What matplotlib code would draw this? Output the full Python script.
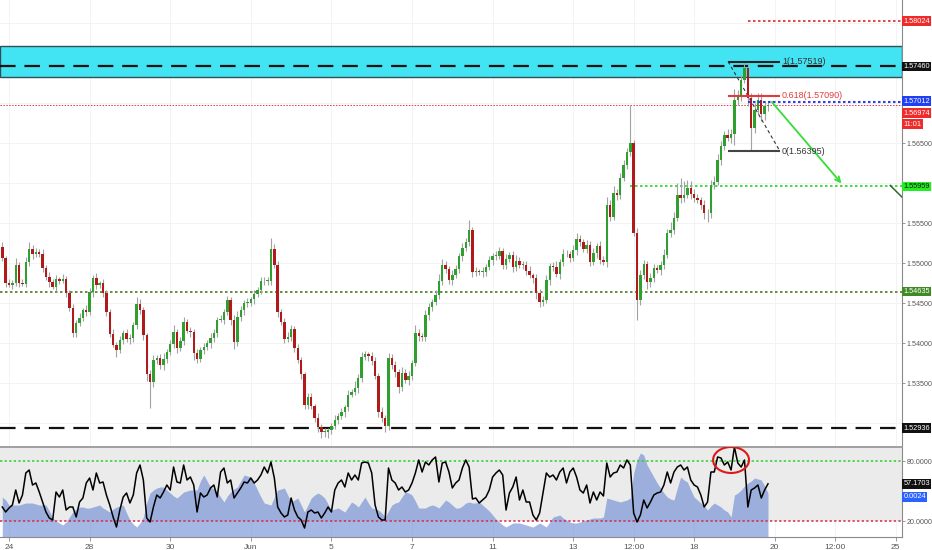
import matplotlib
matplotlib.use('Agg')
import matplotlib.pyplot as plt
import numpy as np
from matplotlib.patches import Rectangle, Ellipse
from matplotlib.transforms import blended_transform_factory, ScaledTranslation

FONT = ['Liberation Sans Narrow', 'Liberation Sans', 'DejaVu Sans']

# ---------------- data ----------------
first_open = 1.5520
closes = [
    1.5506, 1.5475, 1.5473, 1.5475, 1.5498, 1.5475, 1.5474, 1.5501, 1.5518, 1.5511,
    1.5514, 1.5511, 1.5494, 1.5483, 1.5476, 1.5470, 1.5480, 1.5478, 1.5480, 1.5463,
    1.5444, 1.5413, 1.5425, 1.5431, 1.5441, 1.5439, 1.5464, 1.5481, 1.5473, 1.5475,
    1.5463, 1.5439, 1.5411, 1.5398, 1.5391, 1.5404, 1.5412, 1.5405, 1.5406, 1.5422,
    1.5449, 1.5441, 1.5410, 1.5361, 1.5351, 1.5379, 1.5381, 1.5372, 1.5380, 1.5389,
    1.5399, 1.5414, 1.5394, 1.5402, 1.5426, 1.5415, 1.5414, 1.5387, 1.5380, 1.5391,
    1.5395, 1.5400, 1.5406, 1.5412, 1.5429, 1.5429, 1.5439, 1.5454, 1.5429, 1.5401,
    1.5432, 1.5441, 1.5450, 1.5450, 1.5455, 1.5461, 1.5466, 1.5477, 1.5478, 1.5478,
    1.5518, 1.5498, 1.5439, 1.5426, 1.5405, 1.5408, 1.5418, 1.5394, 1.5379, 1.5361,
    1.5323, 1.5333, 1.5321, 1.5306, 1.5295, 1.5289, 1.5289, 1.5291, 1.5296, 1.5304,
    1.5309, 1.5314, 1.5320, 1.5335, 1.5339, 1.5344, 1.5356, 1.5383, 1.5386, 1.5384,
    1.5378, 1.5359, 1.5314, 1.5306, 1.5296, 1.5381, 1.5372, 1.5364, 1.5345, 1.5362,
    1.5354, 1.5359, 1.5375, 1.5412, 1.5409, 1.5407, 1.5435, 1.5445, 1.5451, 1.5460,
    1.5478, 1.5498, 1.5492, 1.5479, 1.5485, 1.5492, 1.5509, 1.5519, 1.5526, 1.5541,
    1.5489, 1.5490, 1.5489, 1.5489, 1.5495, 1.5504, 1.5509, 1.5509, 1.5515, 1.5498,
    1.5505, 1.5510, 1.5495, 1.5503, 1.5498, 1.5498, 1.5490, 1.5485, 1.5481, 1.5463,
    1.5451, 1.5454, 1.5479, 1.5496, 1.5495, 1.5486, 1.5501, 1.5511, 1.5511, 1.5506,
    1.5516, 1.5530, 1.5526, 1.5518, 1.5523, 1.5501, 1.5512, 1.5521, 1.5504, 1.5501,
    1.5573, 1.5558, 1.5588, 1.5585, 1.5606, 1.5623, 1.5639, 1.5650, 1.5538, 1.5454,
    1.5485, 1.5499, 1.5476, 1.5481, 1.5494, 1.5491, 1.5497, 1.5510, 1.5538, 1.5541,
    1.5556, 1.5585, 1.5581, 1.5585, 1.5594, 1.5586, 1.5581, 1.5579, 1.5573, 1.5563,
    1.5562, 1.5598, 1.5601, 1.5629, 1.5646, 1.5660, 1.5656, 1.5661, 1.5704, 1.5708,
    1.5729, 1.5744, 1.5706, 1.5669, 1.5691, 1.5704, 1.5686, 1.5696, 1.5697,
]
upper_wick_pips = [
    6, 3, 5, 4, 8, 3, 5, 6, 8, 4,   5, 4, 7, 3, 6, 4, 5, 3, 6, 4,
    3, 5, 4, 6, 3, 7, 5, 4, 6, 3,   5, 3, 4, 6, 3, 5, 4, 6, 5, 4,
    8, 6, 4, 3, 5, 6, 4, 5, 7, 4,   5, 8, 4, 6, 7, 4, 5, 3, 6, 4,
    5, 4, 6, 5, 4, 6, 3, 5, 4, 6,   8, 5, 4, 6, 3, 5, 4, 6, 5, 4,
    13, 6, 4, 3, 5, 6, 4, 3, 5, 4,  3, 5, 4, 3, 6, 4, 5, 3, 4, 6,
    4, 5, 3, 6, 4, 8, 5, 6, 4, 3,   5, 4, 3, 6, 4, 7, 5, 6, 4, 8,
    5, 6, 4, 10, 5, 4, 6, 5, 4, 6,  8, 7, 5, 4, 6, 5, 4, 6, 5, 13,
    4, 5, 3, 6, 4, 5, 4, 6, 5, 4,   6, 4, 5, 7, 4, 5, 4, 6, 3, 5,
    4, 5, 6, 4, 5, 7, 4, 6, 5, 4,   6, 8, 5, 4, 6, 5, 7, 4, 6, 5,
    10, 6, 8, 5, 7, 6, 5, 48, 4, 6, 6, 5, 4, 6, 5, 4, 6, 8, 5, 10,
    8, 15, 21, 18, 10, 8, 6, 5, 4, 6, 5, 6, 8, 7, 6, 5, 8, 6, 13, 8,
    6, 8, 5, 6, 9, 9, 8, 7, 5,
]
lower_wick_pips = [
    4, 5, 3, 6, 4, 5, 3, 4, 5, 6,   4, 3, 5, 4, 6, 3, 5, 4, 3, 5,
    4, 6, 5, 4, 3, 5, 4, 6, 5, 4,   6, 5, 4, 3, 8, 4, 5, 4, 6, 5,
    4, 5, 6, 8, 32, 6, 5, 4, 6, 5,  4, 5, 6, 4, 5, 3, 6, 8, 5, 4,
    5, 4, 6, 5, 4, 3, 5, 4, 6, 8,   5, 4, 6, 5, 4, 6, 3, 5, 4, 6,
    5, 4, 6, 3, 5, 4, 6, 5, 4, 6,   5, 6, 4, 5, 6, 8, 7, 8, 5, 4,
    5, 4, 6, 5, 3, 4, 6, 5, 4, 6,   5, 4, 6, 5, 7, 5, 4, 6, 8, 5,
    4, 6, 5, 4, 6, 5, 4, 6, 5, 4,   5, 6, 4, 5, 6, 4, 5, 6, 4, 5,
    6, 5, 4, 6, 5, 4, 6, 5, 4, 6,   5, 4, 6, 5, 4, 6, 5, 4, 6, 8,
    6, 5, 4, 6, 5, 4, 6, 5, 4, 5,   4, 6, 5, 4, 6, 5, 4, 6, 5, 4,
    6, 5, 4, 6, 5, 4, 6, 5, 4, 25,  6, 5, 8, 6, 5, 4, 6, 5, 4, 6,
    5, 4, 6, 5, 4, 6, 5, 4, 6, 8,   11, 6, 5, 4, 6, 5, 4, 6, 14, 6,
    5, 4, 10, 29, 6, 5, 8, 7, 6,
]
osc_line = [
    34, 29, 33, 36, 51, 38, 46, 68, 71, 56,  58, 49, 39, 29, 23, 21, 49, 44, 51, 31,
    34, 34, 24, 39, 43, 58, 63, 51, 68, 58,  59, 46, 36, 24, 14, 31, 44, 48, 38, 46,
    68, 76, 61, 23, 19, 34, 46, 43, 49, 56,  51, 74, 59, 58, 76, 61, 64, 56, 29, 48,
    44, 46, 53, 56, 44, 69, 73, 58, 61, 43,  48, 53, 59, 58, 63, 58, 61, 66, 74, 68,
    79, 63, 34, 28, 24, 26, 43, 31, 24, 21,  13, 29, 31, 28, 29, 23, 28, 34, 29, 51,
    58, 61, 54, 68, 61, 66, 61, 78, 79, 78,  68, 36, 24, 21, 21, 73, 61, 58, 51, 54,
    49, 51, 58, 68, 81, 69, 79, 76, 81, 84,  59, 78, 79, 69, 53, 58, 61, 73, 81, 74,
    42, 43, 38, 41, 44, 51, 64, 68, 71, 66,  31, 48, 54, 64, 41, 51, 39, 39, 26, 21,
    28, 48, 68, 64, 66, 61, 69, 73, 58, 69,  73, 64, 51, 48, 56, 38, 49, 41, 49, 45,
    78, 64, 68, 69, 76, 73, 81, 76, 28, 19,  26, 41, 33, 39, 46, 48, 49, 56, 69, 58,
    69, 74, 76, 71, 74, 61, 56, 54, 46, 34,  39, 69, 69, 84, 83, 76, 79, 71, 94, 78,
    74, 81, 34, 51, 53, 56, 43, 51, 57.17,
]
osc_area = [
    44, 41, 36, 36, 36, 36, 37, 38, 38, 38,  37, 36, 36, 36, 30, 23, 20, 18, 16, 19,
    24, 29, 32, 34, 34, 33, 33, 34, 35, 36,  33, 31, 29, 32, 34, 35, 36, 28, 21, 17,
    14, 18, 24, 38, 48, 51, 53, 54, 54, 51,  48, 45, 43, 46, 49, 50, 51, 51, 51, 60,
    66, 60, 54, 52, 49, 44, 39, 45, 49, 52,  54, 60, 66, 65, 64, 58, 51, 44, 38, 37,
    36, 44, 51, 52, 53, 46, 39, 41, 43, 36,  29, 36, 43, 46, 48, 46, 43, 37, 31, 32,
    33, 31, 29, 34, 39, 37, 34, 39, 44, 38,  33, 32, 31, 28, 24, 30, 36, 38, 39, 44,
    49, 48, 46, 40, 33, 33, 33, 35, 36, 35,  33, 37, 41, 39, 36, 33, 33, 35, 38, 39,
    38, 38, 39, 36, 33, 30, 26, 22, 19, 16,  14, 16, 18, 18, 18, 17, 16, 15, 14, 16,
    18, 16, 14, 19, 24, 25, 26, 23, 21, 19,  18, 18, 19, 20, 21, 22, 23, 23, 23, 24,
    43, 42, 41, 40, 39, 40, 41, 43, 68, 81,  88, 86, 76, 70, 64, 58, 53, 48, 44, 42,
    41, 53, 64, 61, 59, 51, 44, 41, 38, 35,  31, 35, 38, 36, 34, 31, 29, 24, 46, 48,
    51, 55, 58, 60, 63, 62, 61, 55, 48,
]

bars_per_day = 12
first_bar_day = -2 / 12          # first bar on May 23 20:00
tick_days = [0, 2, 4, 6, 8, 10, 12, 14, 15.5, 17, 19, 20.5, 22]
tick_labels = ['24', '28', '30', 'Jun', '5', '7', '11', '13', '12:00', '18', '20', '12:00', '25']

zone_low, zone_high = 1.57325, 1.57713
level_resist = 1.57460
level_support = 1.52936
level_mid = 1.54635
level_target = 1.55959
level_upper = 1.58024
level_bid = 1.57012
last_price = 1.56974
last_line_value = 57.1703
last_area_text = "0.0024"
fib_levels = [(1.0, 1.57519), (0.618, 1.57090), (0.0, 1.56395)]
fib_bar_start, fib_bar_end = 216.1, 231.6
arrow_from = (228.6, 1.5704)
arrow_to = (250.4, 1.5597)
extra_line = [(264.4, 1.5597), (268.0, 1.5582)]

# ---------------- figure ----------------
W, H = 932, 550
fig = plt.figure(figsize=(W / 100, H / 100), dpi=100)
fig.patch.set_facecolor('white')
ax = fig.add_axes([0, 1 - 446 / H, 902 / W, 446 / H])
ax2 = fig.add_axes([0, 1 - 537 / H, 902 / W, 90 / H], sharex=ax)

n = len(closes)
x = np.arange(n)
c = np.array(closes)
o = np.r_[first_open, c[:-1]]
hi = np.maximum(o, c) + np.array(upper_wick_pips) * 1e-4
lo = np.minimum(o, c) - np.array(lower_wick_pips) * 1e-4

def day_to_bar(d):
    return (np.asarray(d) - first_bar_day) * bars_per_day

xmin, xmax = -0.685, 267.9
ax.set_xlim(xmin, xmax)
ax.set_ylim(1.52713, 1.58288)

tick_x = day_to_bar(tick_days)
yticks = [1.530, 1.535, 1.540, 1.545, 1.550, 1.555, 1.560, 1.565, 1.570, 1.575, 1.580]
hidden_ticks = {1.530, 1.560, 1.570, 1.575, 1.580}   # covered by price boxes

# faint grid
for tx in tick_x:
    ax.axvline(tx, color='#f3f3f3', lw=0.7, zorder=0)
    ax2.axvline(tx, color='#f3f3f3', lw=0.7, zorder=0)
for ty in yticks:
    ax.axhline(ty, color='#f3f3f3', lw=0.7, zorder=0)

# zone
ax.add_patch(Rectangle((xmin, zone_low), xmax - xmin, zone_high - zone_low,
                       facecolor='#42e3f2', edgecolor='#2f5055', lw=1.0, zorder=1))
ax.axhline(level_resist, color='#111111', lw=1.6, dashes=(7, 4), zorder=2)
ax.axhline(level_support, color='#111111', lw=1.6, dashes=(7, 4), zorder=2)
ax.axhline(level_mid, color='#4b7d1c', lw=1.2, ls=(0, (1.5, 1.5)), zorder=2)
ax.axhline(last_price, color='#e03a3a', lw=0.7, ls=(0, (1.5, 1.5)), zorder=2)
ax.hlines(level_target, 187, xmax, color='#2ad22a', lw=1.2, linestyles=[(0, (1.5, 1.5))], zorder=2)
ax.hlines(level_upper, 222, xmax, color='#e02828', lw=1.2, linestyles=[(0, (1.5, 1.5))], zorder=2)

# candles
ax.vlines(x, lo, hi, color='#a3a3a3', lw=0.8, zorder=3)
up = c >= o
bottom = np.minimum(o, c)
height = np.maximum(np.abs(c - o), 0.00008)
ax.bar(x[up], height[up], bottom=bottom[up], width=0.72, color='#2f9f2f', lw=0, zorder=4)
ax.bar(x[~up], height[~up], bottom=bottom[~up], width=0.72, color='#b01a1a', lw=0, zorder=4)

ax.hlines(level_bid, 222, xmax, color='#2a3ef0', lw=1.5, linestyles=[(0, (1.2, 1.2))], zorder=5)

# fib
fib_colors = {1.0: '#222222', 0.618: '#e33b3b', 0.0: '#444444'}
for lvl, price in fib_levels:
    ax.hlines(price, fib_bar_start, fib_bar_end, color=fib_colors[lvl], lw=1.5, zorder=6)
    txt = f"{lvl:g}({price:.5f})"
    ax.text(fib_bar_end + 0.6, price, txt, fontsize=6.5, family=FONT,
            color='#e33b3b' if lvl == 0.618 else '#333333', va='center', ha='left', zorder=7)
ax.plot([fib_bar_start, fib_bar_end], [fib_levels[0][1], fib_levels[2][1]],
        color='#333333', lw=0.8, dashes=(3, 2.5), zorder=3.5)

ax.annotate('', xy=arrow_to, xytext=arrow_from,
            arrowprops=dict(arrowstyle='->', color='#35dd35', lw=1.3, mutation_scale=9), zorder=6)
ax.plot([p[0] for p in extra_line], [p[1] for p in extra_line], color='#2e6b2e', lw=1.1, zorder=6,
        clip_on=True)

# axes styling main
for s in ['top', 'left', 'bottom']:
    ax.spines[s].set_visible(False)
ax.spines['right'].set_color('#8a8a8a')
ax.spines['right'].set_linewidth(0.8)
ax.yaxis.tick_right()
ax.set_yticks(yticks)
ax.set_yticklabels(['' if t in hidden_ticks else f"{t:.5f}" for t in yticks], family=FONT)
ax.tick_params(axis='y', colors='#8a8a8a', labelcolor='#555555', labelsize=5.1, length=2.5,
               width=0.6, pad=0.8)
ax.tick_params(axis='x', bottom=False, labelbottom=False)

def rlabel(axis, y, text, bg, fg='white', dy=0):
    tr = blended_transform_factory(axis.transAxes, axis.transData) + \
        ScaledTranslation(0, -dy / 100, fig.dpi_scale_trans)
    axis.text(1.0018, y, text, transform=tr, ha='left', va='center', fontsize=5.3,
              color=fg, family=FONT, clip_on=False, zorder=20,
              bbox=dict(boxstyle='square,pad=0.16', fc=bg, ec='none'))

rlabel(ax, level_upper, f"{level_upper:.5f}", '#ee2b2b')
rlabel(ax, level_resist, f"{level_resist:.5f}", '#111111')
rlabel(ax, level_bid, f"{level_bid:.5f}", '#1f3ff0', dy=-1)
rlabel(ax, last_price, f"{last_price:.5f}", '#ee2b2b', dy=8)
rlabel(ax, last_price, "11:01", '#ee2b2b', dy=19)
rlabel(ax, level_target, f"{level_target:.5f}", '#22ee22', fg='#111111')
rlabel(ax, level_mid, f"{level_mid:.5f}", '#3f8a24', dy=-1)
rlabel(ax, level_support, f"{level_support:.5f}", '#111111')

# ---------------- oscillator ----------------
ax2.set_ylim(4, 94)
ax2.axhspan(20, 94, color='#ebebeb', zorder=0, lw=0)
ax2.fill_between(x, 0, osc_area, color='#5b7fd0', alpha=0.55, lw=0, zorder=1)
ax2.axhline(80, color='#2ad22a', lw=1.1, ls=(0, (1.5, 1.5)), zorder=2)
ax2.axhline(20, color='#d42a4a', lw=1.1, ls=(0, (1.5, 1.5)), zorder=2)
ax2.plot(x, osc_line, color='#000000', lw=1.1, zorder=3)
ax2.add_patch(Ellipse((217.0, 81), 10.7, 26, facecolor='none', edgecolor='#e01818', lw=1.5, zorder=4))

ax2.spines['left'].set_visible(False)
ax2.spines['top'].set_color('#9a9a9a')
ax2.spines['top'].set_linewidth(1.3)
ax2.spines['right'].set_color('#8a8a8a')
ax2.spines['right'].set_linewidth(0.8)
ax2.spines['bottom'].set_color('#8a8a8a')
ax2.spines['bottom'].set_linewidth(0.8)
ax2.yaxis.tick_right()
ax2.set_yticks([20, 80])
ax2.set_yticklabels(['20.0000', '80.0000'], family=FONT)
ax2.tick_params(axis='y', colors='#8a8a8a', labelcolor='#555555', labelsize=5.1, length=2.5,
               width=0.6, pad=0.8)
ax2.set_xticks(tick_x)
ax2.set_xticklabels(tick_labels, family=FONT)
ax2.tick_params(axis='x', colors='#8a8a8a', labelcolor='#555555', labelsize=6.0, length=3,
                width=0.6, pad=2)

rlabel(ax2, osc_line[-1], f"{last_line_value:.4f}", '#111111')
rlabel(ax2, osc_area[-1], last_area_text, '#2962ff', dy=4)

fig.savefig('out.png', dpi=100, facecolor='white')
